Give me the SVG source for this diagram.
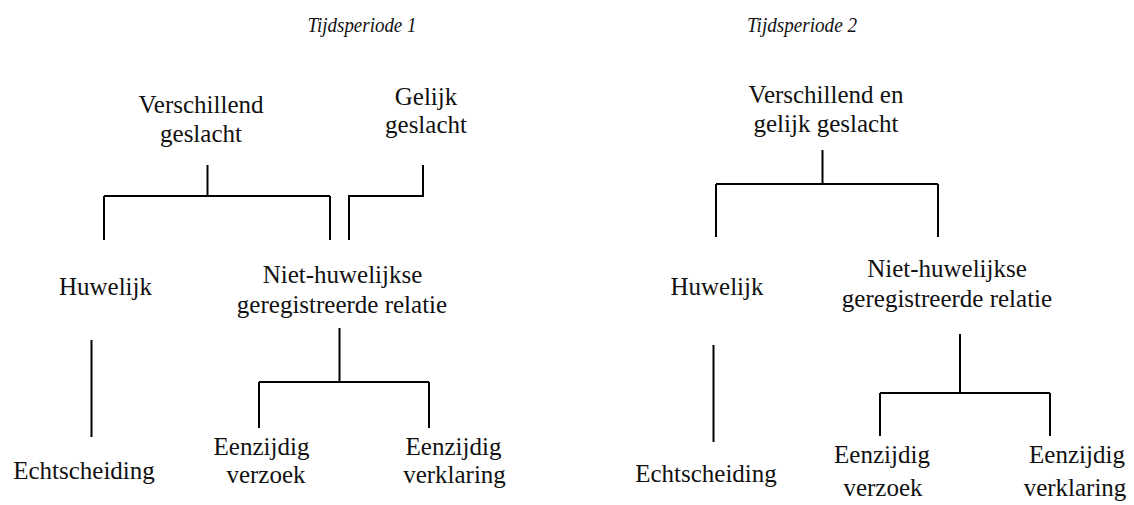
<svg xmlns="http://www.w3.org/2000/svg" width="1134" height="505" viewBox="0 0 1134 505">
<style>
text{font-family:"Liberation Serif","Times New Roman",serif;font-size:25px;fill:#111;text-anchor:middle}
.t{font-style:italic;font-size:22px}
.c{stroke:#000;stroke-width:2;fill:none}
</style>
<rect width="1134" height="505" fill="#fff"/>
<g id="title1"><text class="t" x="362" y="31.5" textLength="109" lengthAdjust="spacingAndGlyphs">Tijdsperiode 1</text></g>
<g id="title2"><text class="t" x="802" y="31.5" textLength="110" lengthAdjust="spacingAndGlyphs">Tijdsperiode 2</text></g>
<g id="p1-verschillend"><text x="201" y="113">Verschillend</text><text x="201" y="142">geslacht</text></g>
<g id="p1-gelijk"><text x="426" y="105">Gelijk</text><text x="426" y="133">geslacht</text></g>
<g id="p1-huwelijk"><text x="105.5" y="295">Huwelijk</text></g>
<g id="p1-niet"><text x="342.5" y="283">Niet-huwelijkse</text><text x="342" y="313">geregistreerde relatie</text></g>
<g id="p1-echtscheiding"><text x="84" y="479">Echtscheiding</text></g>
<g id="p1-verzoek"><text x="261.5" y="455">Eenzijdig</text><text x="266" y="483">verzoek</text></g>
<g id="p1-verklaring"><text x="453.5" y="455">Eenzijdig</text><text x="454.5" y="483">verklaring</text></g>
<g id="p2-beide"><text x="826" y="103">Verschillend en</text><text x="826" y="132">gelijk geslacht</text></g>
<g id="p2-huwelijk"><text x="717" y="295">Huwelijk</text></g>
<g id="p2-niet"><text x="947" y="277">Niet-huwelijkse</text><text x="947" y="307">geregistreerde relatie</text></g>
<g id="p2-echtscheiding"><text x="706" y="482">Echtscheiding</text></g>
<g id="p2-verzoek"><text x="882" y="463">Eenzijdig</text><text x="883" y="496">verzoek</text></g>
<g id="p2-verklaring"><text x="1077" y="463">Eenzijdig</text><text x="1075" y="496">verklaring</text></g>
<g id="connectors" class="c">
<path d="M207.5 165V196M104 196H330M104 196V240M330 196V240"/>
<path d="M423 165V196H349V240"/>
<path d="M91.5 340V437"/>
<path d="M339.5 328V382M259 382H429M259 382V428M429 382V428"/>
<path d="M822.5 150V184M716 184H938M716 184V237M938 184V237"/>
<path d="M713.5 345V442"/>
<path d="M960 334V393M880 393H1050M880 393V436M1050 393V436"/>
</g>
</svg>
